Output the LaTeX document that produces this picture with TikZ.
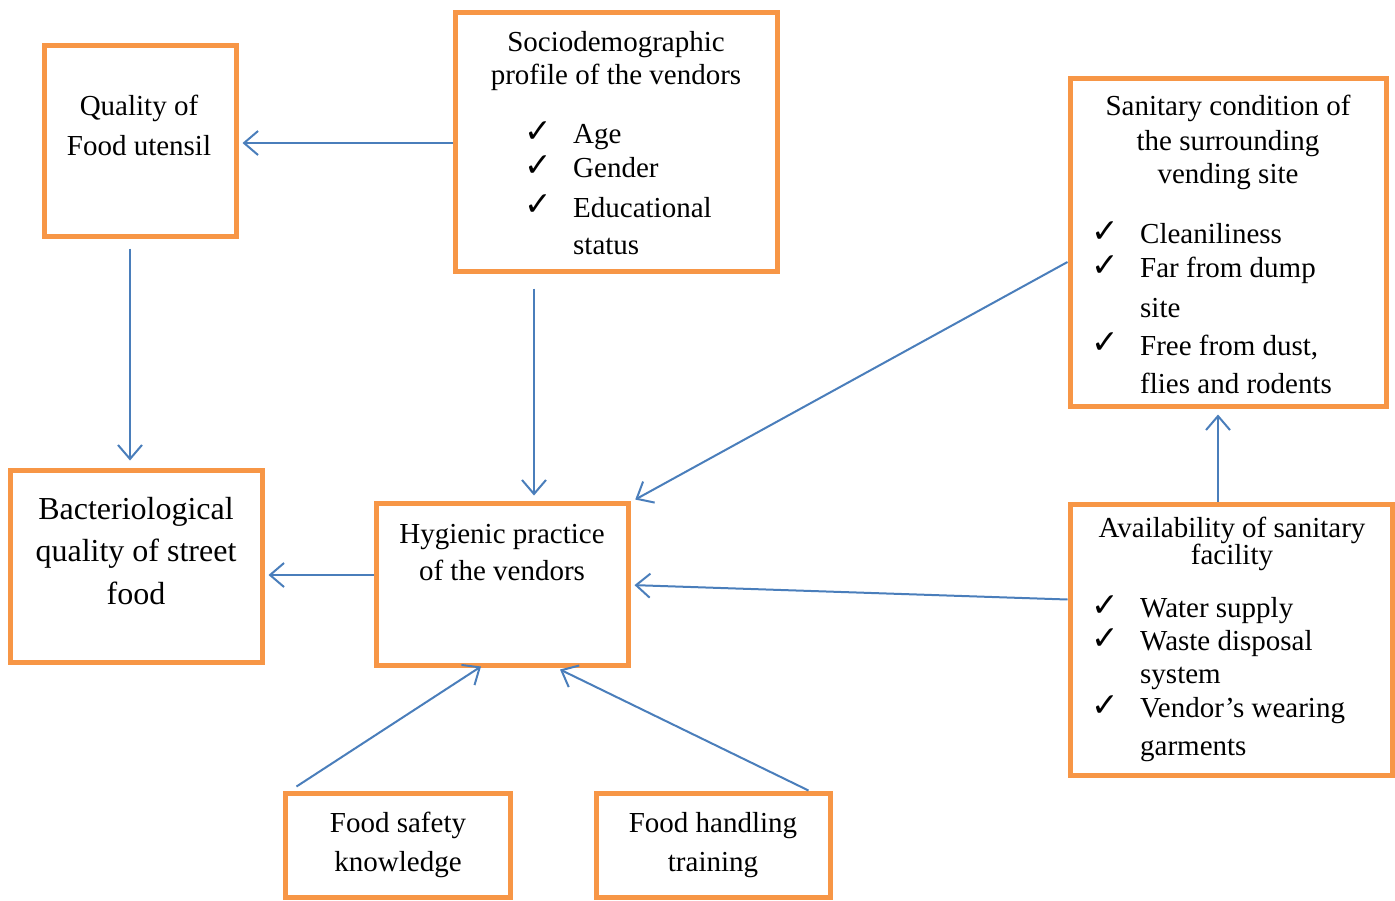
\documentclass[tikz,border=0pt]{standalone}
\usepackage{fontspec}
\setmainfont{Liberation Serif}
\newfontfamily\symfont{DejaVu Sans}
\usetikzlibrary{arrows.meta}
\definecolor{boxorange}{HTML}{F79646}
\definecolor{arrowblue}{HTML}{4A7EBB}
\tikzset{
  box/.style={draw=boxorange, line width=5pt, fill=none, inner sep=0pt, rectangle},
  arr/.style={draw=arrowblue, line width=2pt, -{Straight Barb[length=14pt,width=24pt,line width=2pt]}},
  lbl/.style={anchor=base, inner sep=0pt, font=\fontsize{29}{34}\selectfont},
  big/.style={anchor=base, inner sep=0pt, font=\fontsize{32}{38}\selectfont},
  itm/.style={anchor=base west, inner sep=0pt, font=\fontsize{29}{34}\selectfont},
  chk/.style={anchor=base west, inner sep=0pt, font=\fontsize{33}{33}\symfont}
}
\begin{document}
\begin{tikzpicture}[x=1pt,y=-1pt]
\useasboundingbox (0,0) rectangle (1395,900);
% boxes
\node[box, minimum width=192pt, minimum height=191pt] (qual) at (140,140.5) {};
\node[box, minimum width=322pt, minimum height=259pt] (socio) at (616,141.5) {};
\node[box, minimum width=316pt, minimum height=328pt] (sanit) at (1228,242) {};
\node[box, minimum width=252pt, minimum height=192pt] (bact) at (136,566) {};
\node[box, minimum width=252pt, minimum height=162pt] (hyg) at (502,584) {};
\node[box, minimum width=322pt, minimum height=271pt] (avail) at (1231,639.5) {};
\node[box, minimum width=225pt, minimum height=104pt] (fsk) at (397.5,845) {};
\node[box, minimum width=234pt, minimum height=104pt] (fht) at (713,845) {};
% texts: quality
\node[lbl] (q1) at (139,115) {Quality of};
\node[lbl] (q2) at (139,155) {Food utensil};
% socio
\node[lbl] (s1) at (616,51) {Sociodemographic};
\node[lbl] (s2) at (616,84) {profile of the vendors};
\node[chk] (sc1) at (524,142) {✓};
\node[chk] (sc2) at (524,176) {✓};
\node[chk] (sc3) at (524,215) {✓};
\node[itm] (si1) at (573,143) {Age};
\node[itm] (si2) at (573,177) {Gender};
\node[itm] (si3) at (573,217) {Educational};
\node[itm] (si4) at (573,254) {status};
% sanitary
\node[lbl] (n1) at (1228,115) {Sanitary condition of};
\node[lbl] (n2) at (1228,150) {the surrounding};
\node[lbl] (n3) at (1228,183) {vending site};
\node[chk] (nc1) at (1091,242) {✓};
\node[chk] (nc2) at (1091,276) {✓};
\node[chk] (nc3) at (1091,353) {✓};
\node[itm] (ni1) at (1140,243) {Cleaniliness};
\node[itm] (ni2) at (1140,277) {Far from dump};
\node[itm] (ni3) at (1140,317) {site};
\node[itm] (ni4) at (1140,355) {Free from dust,};
\node[itm] (ni5) at (1140,393) {flies and rodents};
% bacteriological
\node[big] (b1) at (136,519) {Bacteriological};
\node[big] (b2) at (136,561) {quality of street};
\node[big] (b3) at (136,604) {food};
% hygienic
\node[lbl] (h1) at (502,543) {Hygienic practice};
\node[lbl] (h2) at (502,580) {of the vendors};
% availability
\node[lbl] (a1) at (1232,537) {Availability of sanitary};
\node[lbl] (a2) at (1232,564) {facility};
\node[chk] (ac1) at (1091,616) {✓};
\node[chk] (ac2) at (1091,649) {✓};
\node[chk] (ac3) at (1091,716) {✓};
\node[itm] (ai1) at (1140,617) {Water supply};
\node[itm] (ai2) at (1140,650) {Waste disposal};
\node[itm] (ai3) at (1140,683) {system};
\node[itm] (ai4) at (1140,717) {Vendor’s wearing};
\node[itm] (ai5) at (1140,755) {garments};
% bottom boxes
\node[lbl] (f1) at (398,832) {Food safety};
\node[lbl] (f2) at (398,871) {knowledge};
\node[lbl] (g1) at (713,832) {Food handling};
\node[lbl] (g2) at (713,871) {training};
% connectors
\draw[arr, shorten >=4pt] ([yshift=-1.5pt]socio.west) -- ([yshift=-1.5pt]socio.west -| qual.east);
\draw[arr, shorten <=10pt, shorten >=7pt] ([xshift=-10pt]qual.south) -- ([xshift=-10pt]qual.south |- bact.north);
\draw[arr, shorten <=15pt, shorten >=5pt] ([xshift=-82pt]socio.south) -- ([xshift=-82pt]socio.south |- hyg.north);
\draw[arr, shorten >=2pt] ([yshift=-20pt]sanit.west) -- ([xshift=3pt]hyg.north east);
\draw[arr, shorten >=6pt] ([xshift=-13pt]avail.north) -- ([xshift=-13pt]avail.north |- sanit.south);
\draw[arr, shorten >=4pt] ([yshift=40pt]avail.west) -- ([yshift=-1pt]hyg.east);
\draw[arr, shorten >=4pt] ([yshift=9pt]hyg.west) -- ([yshift=9pt]hyg.west -| bact.east);
\draw[arr] ([xshift=14pt,yshift=4pt]fsk.north west) -- ([xshift=-21pt,yshift=1pt]hyg.south);
\draw[arr] ([xshift=-24pt]fht.north east) -- ([xshift=58pt,yshift=-2pt]hyg.south);
\end{tikzpicture}
\end{document}
